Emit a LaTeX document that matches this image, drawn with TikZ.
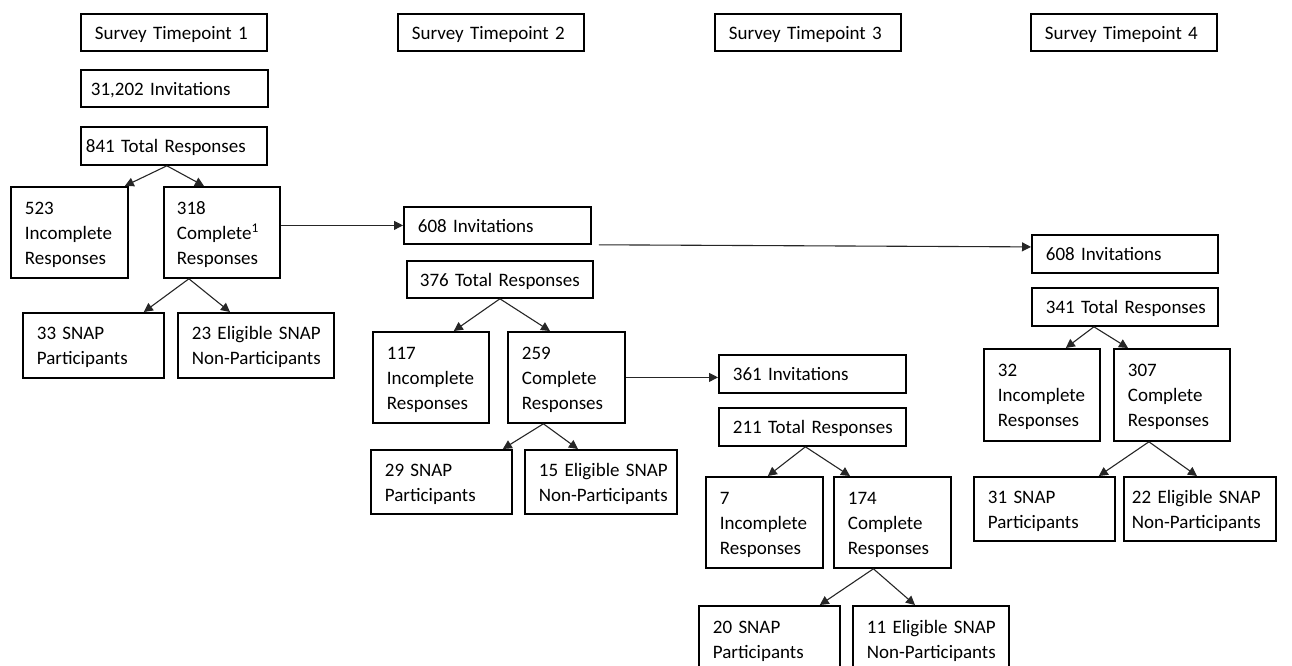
\documentclass[tikz,border=0pt]{standalone}
\usepackage{fontspec}
\setmainfont{Carlito}
\usetikzlibrary{arrows.meta}

% one text line per row, never wrapped
\newcommand{\boxlines}[1]{\begin{tabular}{@{}l@{}}\rule{0pt}{21pt}#1\end{tabular}}

\begin{document}
\begin{tikzpicture} [
    x=1pt, y=-1pt,
    box/.style={rectangle, draw=black, line width=1.8pt, anchor=north west, align=left, inner xsep=14pt, inner ysep=0pt, font=\fontsize{19}{25}\selectfont},
    arrow/.style={-{Triangle[length=9pt,width=9pt]}, line width=1.1pt, black!85}
]

\useasboundingbox (0,0) rectangle (1292,666);
\clip (0,0) rectangle (1292,666);

% Survey timepoint headers
\node[box, text width=158pt, minimum height=37pt] (tp1) at (80,13) {\boxlines{Survey Timepoint 1}};
\node[box, text width=158pt, minimum height=37pt] (tp2) at (397,13) {\boxlines{Survey Timepoint 2}};
\node[box, text width=158pt, minimum height=37pt] (tp3) at (714,13) {\boxlines{Survey Timepoint 3}};
\node[box, text width=158pt, minimum height=37pt] (tp4) at (1030,13) {\boxlines{Survey Timepoint 4}};

% Timepoint 1
\node[box, text width=167pt, inner xsep=10pt, minimum height=37pt] (inv1) at (80,69) {\boxlines{31,202 Invitations}};
\node[box, text width=176pt, inner xsep=5pt, minimum height=38pt] (tot1) at (80,126) {\boxlines{841 Total Responses}};
\node[box, text width=89pt, minimum height=91pt] (inc1) at (10,186) {\boxlines{523\\Incomplete\\Responses}};
\node[box, text width=90pt, inner xsep=13pt, minimum height=91pt] (com1) at (163,186) {\boxlines{318\\Complete\textsuperscript{1}\\Responses}};
\node[box, text width=113pt, minimum height=65pt] (snap1) at (22,312) {\boxlines{33 SNAP\\Participants}};
\node[box, text width=128pt, minimum height=65pt] (elig1) at (177,312) {\boxlines{23 Eligible SNAP\\Non-Participants}};

% Timepoint 2
\node[box, text width=159pt, minimum height=37pt] (inv2) at (403,206) {\boxlines{608 Invitations}};
\node[box, text width=160pt, inner xsep=13pt, minimum height=37pt] (tot2) at (406,260) {\boxlines{376 Total Responses}};
\node[box, text width=88pt, minimum height=91pt] (inc2) at (372,331) {\boxlines{117\\Incomplete\\Responses}};
\node[box, text width=89pt, minimum height=91pt] (com2) at (507,331) {\boxlines{259\\Complete\\Responses}};
\node[box, text width=113pt, minimum height=64pt] (snap2) at (370,449) {\boxlines{29 SNAP\\Participants}};
\node[box, text width=124pt, minimum height=64pt] (elig2) at (524,449) {\boxlines{15 Eligible SNAP\\Non-Participants}};

% Timepoint 3
\node[box, text width=159pt, minimum height=38pt] (inv3) at (718,354) {\boxlines{361 Invitations}};
\node[box, text width=159pt, minimum height=38pt] (tot3) at (718,407) {\boxlines{211 Total Responses}};
\node[box, text width=89pt, minimum height=91pt] (inc3) at (705,476) {\boxlines{7\\Incomplete\\Responses}};
\node[box, text width=89pt, minimum height=91pt] (com3) at (833,476) {\boxlines{174\\Complete\\Responses}};
\node[box, text width=113pt, minimum height=66pt] (snap3) at (698,605) {\boxlines{20 SNAP\\Participants}};
\node[box, text width=128pt, minimum height=66pt] (elig3) at (852,605) {\boxlines{11 Eligible SNAP\\Non-Participants}};

% Timepoint 4
\node[box, text width=158pt, minimum height=38pt] (inv4) at (1031,234) {\boxlines{608 Invitations}};
\node[box, text width=158pt, minimum height=38pt] (tot4) at (1031,287) {\boxlines{341 Total Responses}};
\node[box, text width=88pt, minimum height=92pt] (inc4) at (983,348) {\boxlines{32\\Incomplete\\Responses}};
\node[box, text width=88pt, minimum height=92pt] (com4) at (1113,348) {\boxlines{307\\Complete\\Responses}};
\node[box, text width=113pt, minimum height=64pt] (snap4) at (973,476) {\boxlines{31 SNAP\\Participants}};
\node[box, text width=136pt, inner xsep=8pt, minimum height=64pt] (elig4) at (1123,476) {\boxlines{22 Eligible SNAP\\Non-Participants}};

% Splits
\draw[arrow] ([xshift=-7pt]tot1.south) -- ([xshift=-4pt]inc1.north east);
\draw[arrow] ([xshift=-7pt]tot1.south) -- ([xshift=41pt]com1.north west);
\draw[arrow] ([xshift=-33pt]com1.south) -- ([xshift=-21pt]snap1.north east);
\draw[arrow] ([xshift=-33pt]com1.south) -- ([xshift=53pt]elig1.north west);

\draw[arrow] (tot2.south) -- ([xshift=-36pt]inc2.north east);
\draw[arrow] (tot2.south) -- ([xshift=43pt]com2.north west);
\draw[arrow] ([xshift=-23pt]com2.south) -- ([xshift=-10pt]snap2.north east);
\draw[arrow] ([xshift=-23pt]com2.south) -- ([xshift=54pt]elig2.north west);

\draw[arrow] ([xshift=-7pt]tot3.south) -- ([xshift=-56pt]inc3.north east);
\draw[arrow] ([xshift=-7pt]tot3.south) -- ([xshift=17pt]com3.north west);
\draw[arrow] ([xshift=-19pt]com3.south) -- ([xshift=-21pt]snap3.north east);
\draw[arrow] ([xshift=-19pt]com3.south) -- ([xshift=63pt]elig3.north west);

\draw[arrow] ([xshift=-31pt]tot4.south) -- ([xshift=-35pt]inc4.north east);
\draw[arrow] ([xshift=-31pt]tot4.south) -- ([xshift=15pt]com4.north west);
\draw[arrow] ([xshift=-23pt]com4.south) -- ([xshift=-17pt]snap4.north east);
\draw[arrow] ([xshift=-23pt]com4.south) -- ([xshift=74pt]elig4.north west);

% Follow-up invitations
\draw[arrow] (com1.east |- inv2.west) -- (inv2.west);
\draw[arrow] (com2.east) -- (com2.east -| inv3.west);
\draw[arrow] ([xshift=7pt]inv2.south east) -- ([yshift=7pt]inv4.west);

\end{tikzpicture}
\end{document}
